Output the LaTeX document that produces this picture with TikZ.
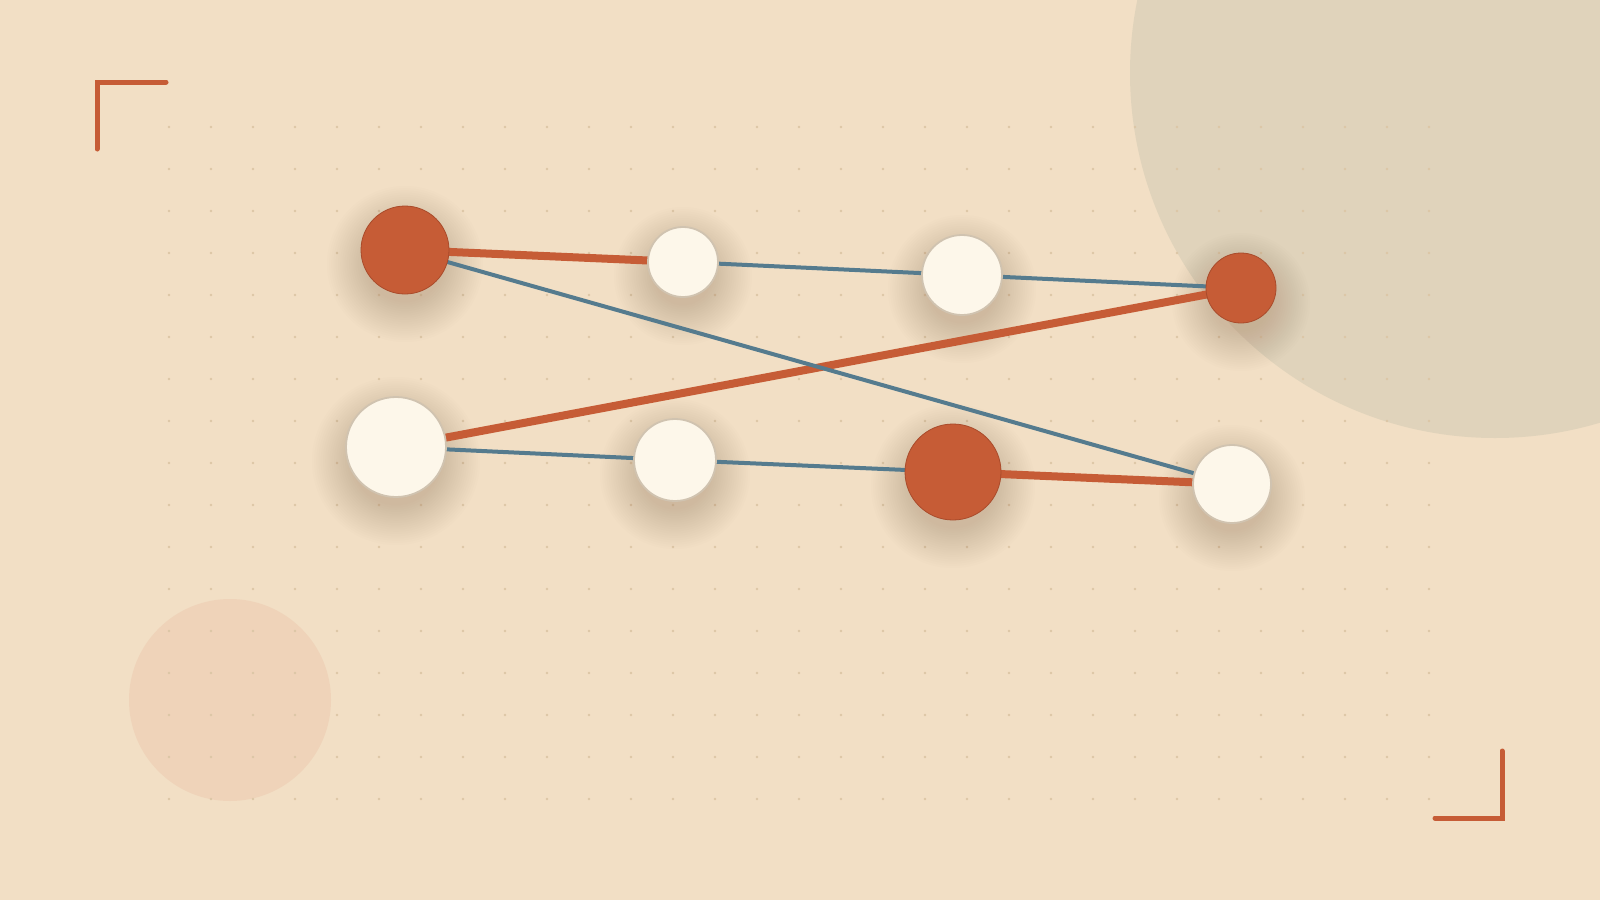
\documentclass[tikz,border=0pt]{standalone}
\definecolor{bgc}{HTML}{F2DFC5}
\definecolor{bigc}{HTML}{E0D3BB}
\definecolor{pinkc}{HTML}{EFD3B9}
\definecolor{orangec}{HTML}{C65C36}
\definecolor{orangeb}{HTML}{A94B2B}
\definecolor{bluec}{HTML}{557B8E}
\definecolor{creamc}{HTML}{FDF7EA}
\definecolor{creamb}{HTML}{D0C3B0}
\definecolor{dotc}{HTML}{DCC6A6}
\definecolor{shadc}{HTML}{A08262}
\pgfdeclarelayer{bgl}
\pgfdeclarelayer{shadl}
\pgfdeclarelayer{edgel}
\pgfsetlayers{bgl,shadl,edgel,main}
\tikzset{
  hotnode/.style={circle, inner sep=0pt, fill=orangec, draw=orangeb, line width=0.8pt, minimum size=#1},
  coolnode/.style={circle, inner sep=0pt, fill=creamc, draw=creamb, line width=1.8pt, minimum size=#1},
  hotedge/.style={draw=orangec, line width=8pt},
  cooledge/.style={draw=bluec, line width=4pt},
  bracket/.style={draw=orangec, line width=5pt, line cap=round, line join=miter},
  nshadow/.style={fill=shadc, fill opacity=0.02}
}
\begin{document}
\begin{tikzpicture}[x=1pt,y=-1pt]
\begin{pgfonlayer}{bgl}
  \fill[bgc] (0,0) rectangle (1600,900);
  \useasboundingbox (0,0) rectangle (1600,900);
  \fill[bigc] (1495,73) circle (365);
  \fill[pinkc] (230,700) circle (101);
  \foreach \i in {0,...,30}
    \foreach \j in {0,...,16}
      \fill[dotc] ({169+42*\i},{127+42*\j}) circle (1.3);
  % corner brackets
  \coordinate (tl1) at (166,82);
  \coordinate (tl2) at (97,82);
  \coordinate (tl3) at (97,149);
  \coordinate (br1) at (1435,818);
  \coordinate (br2) at (1502,818);
  \coordinate (br3) at (1502,751);
  \draw[bracket] (tl1) -- (tl2) -- (tl3);
  \draw[bracket] (br1) -- (br2) -- (br3);
\end{pgfonlayer}

% nodes
\node[hotnode=88pt]  (A) at (405,250) {};
\node[coolnode=70pt] (B) at (683,262) {};
\node[coolnode=80pt] (C) at (962,275) {};
\node[hotnode=70pt]  (D) at (1241,288) {};
\node[coolnode=100pt] (E) at (396,447) {};
\node[coolnode=82pt] (F) at (675,460) {};
\node[hotnode=96pt]  (G) at (953,472) {};
\node[coolnode=78pt] (H) at (1232,484) {};

% soft shadows
\begin{pgfonlayer}{shadl}
  \foreach \n/\r in {A/44,B/35,C/40,D/35,E/50,F/41,G/48,H/39}
    \foreach \k in {0,...,18}
      \fill[nshadow] ([yshift=-14pt]\n.center) circle ({\r+34-2.2*\k});
\end{pgfonlayer}

% edges
\begin{pgfonlayer}{edgel}
  \draw[hotedge] (A.center) -- (B.center);
  \draw[hotedge] (E.center) -- (D.center);
  \draw[hotedge] (G.center) -- (H.center);
  \draw[cooledge] (B.center) -- (C.center);
  \draw[cooledge] (C.center) -- (D.center);
  \draw[cooledge] (A.center) -- (H.center);
  \draw[cooledge] (E.center) -- (F.center);
  \draw[cooledge] (F.center) -- (G.center);
\end{pgfonlayer}
\end{tikzpicture}
\end{document}
